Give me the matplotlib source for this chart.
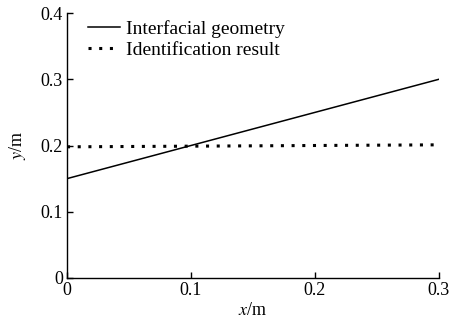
import matplotlib
matplotlib.use("Agg")
import matplotlib.pyplot as plt

# Interface geometry and identified interface positions
x_true = [0.0, 0.3]
y_true = [0.15, 0.30]
x_ident = [0.0, 0.1, 0.2, 0.3]
y_ident = [0.198, 0.199, 0.200, 0.201]

x_ticks = [0, 0.1, 0.2, 0.3]
x_ticklabels = ["0", "0.1", "0.2", "0.3"]
y_ticks = [0, 0.1, 0.2, 0.3, 0.4]
y_ticklabels = ["0", "0.1", "0.2", "0.3", "0.4"]

plt.rcParams["font.family"] = ["Liberation Serif", "DejaVu Serif"]
plt.rcParams["mathtext.fontset"] = "stix"

fig = plt.figure(figsize=(4.53, 3.23), dpi=100)
ax = fig.add_axes([67 / 453, 45 / 323, (439 - 67) / 453, (278 - 13) / 323])

ax.plot(x_true, y_true, color="black", lw=1.1, label="Interfacial geometry")
ax.plot(x_ident, y_ident, color="black", lw=2.2, linestyle=(0, (1, 2.5)),
        label="Identification result")

ax.set_xlim(0, 0.3)
ax.set_ylim(0, 0.4)
ax.set_xticks(x_ticks)
ax.set_xticklabels(x_ticklabels)
ax.set_yticks(y_ticks)
ax.set_yticklabels(y_ticklabels)

for side in ("top", "right"):
    ax.spines[side].set_visible(False)
for side in ("left", "bottom"):
    ax.spines[side].set_linewidth(1.0)
ax.tick_params(direction="in", length=4, width=1.0, labelsize=13, pad=3)

ax.set_xlabel(r"$x$/m", fontsize=13, labelpad=2)
ax.set_ylabel(r"$y$/m", fontsize=13, labelpad=9)

ax.legend(loc="upper left", bbox_to_anchor=(0.056, 0.972), frameon=False,
          fontsize=14, handlelength=1.65, handletextpad=0.3, labelspacing=0.15,
          borderaxespad=0, borderpad=0)

fig.savefig("out.png", dpi=100)
